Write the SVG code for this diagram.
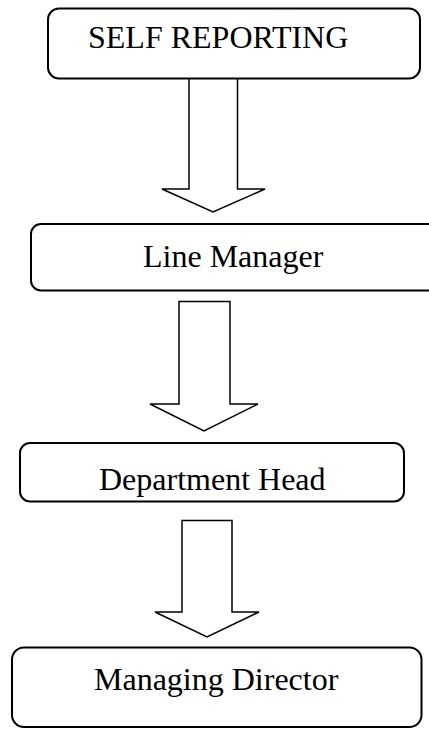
<svg xmlns="http://www.w3.org/2000/svg" width="429" height="729" viewBox="0 0 429 729">
<style>
.box{fill:#fff;stroke:#000;stroke-width:2}
.arr{fill:#fff;stroke:#000;stroke-width:1.5;stroke-linejoin:miter}
text{font-family:'Liberation Serif',serif;font-size:32px;fill:#000}
</style>
<rect width="429" height="729" fill="#fff"/>
<g id="connectors">
<polygon class="arr" points="189,78 237.5,78 237.5,189 265,189 213,212 162,189 189,189"/>
<polygon class="arr" points="179,301.5 230,301.5 230,404 258,404 204,431 150,404 179,404"/>
<polygon class="arr" points="182,520.5 232,520.5 232,612 259,612 207,637 155,612 182,612"/>
</g>
<g id="n1">
<rect class="box" x="48" y="8.5" width="372" height="70" rx="11"/>
<text x="88" y="48" font-family="Liberation Serif, serif">SELF REPORTING</text>
</g>
<g id="n2">
<rect class="box" x="31" y="224" width="410" height="66.5" rx="10"/>
<text x="143" y="267" font-family="Liberation Serif, serif">Line Manager</text>
</g>
<g id="n3">
<rect class="box" x="20" y="443" width="384" height="58.5" rx="10"/>
<text x="99" y="490" font-family="Liberation Serif, serif">Department Head</text>
</g>
<g id="n4">
<rect class="box" x="12" y="647.5" width="409.5" height="79.5" rx="12"/>
<text x="94" y="690" font-family="Liberation Serif, serif">Managing Director</text>
</g>
</svg>
